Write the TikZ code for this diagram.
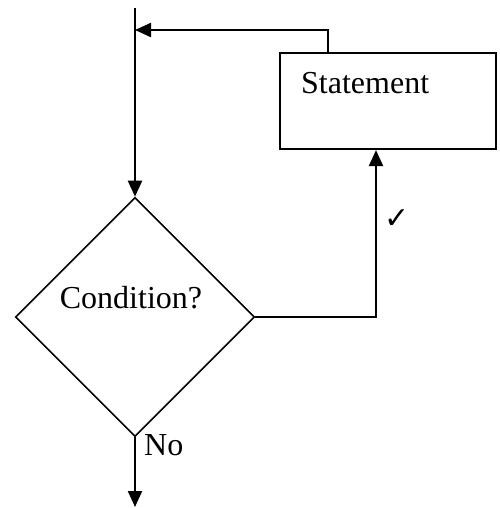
\documentclass[tikz,border=0pt]{standalone}
\usepackage{fontspec}
\setmainfont{Liberation Serif}
\newfontfamily\symfont{DejaVu Sans}
\usetikzlibrary{shapes.geometric,arrows.meta}
\begin{document}
\begin{tikzpicture}[x=1pt,y=-1pt,
  conn/.style={line width=2.2pt},
  arr/.style={conn,-{Triangle[length=16pt,width=14pt]}},
  decision/.style={draw,diamond,line width=1.6pt,inner sep=0pt,minimum width=239pt,minimum height=239pt},
  procbox/.style={draw,rectangle,line width=2.2pt,inner sep=0pt,minimum width=216pt,minimum height=96pt},
  lbl/.style={inner sep=0pt,font=\fontsize{32}{38}\selectfont}]
\useasboundingbox (0,0) rectangle (499,508);
\node[decision] (cond) at (135,317) {};
\node[procbox] (stmt) at (388,101) {};
\node[lbl,anchor=base west] (stxt) at (301,94) {Statement};
\node[lbl,anchor=base] (ctxt) at (131,308) {Condition?};
\node[lbl,anchor=base west] (no) at (144,455) {No};
\node[inner sep=0pt,font=\symfont\fontsize{30}{34}\selectfont] (chk) at (397,219) {✓};
\coordinate (top) at (135,8);
\coordinate (j) at (135,30);
\coordinate (bot) at (135,507);
\draw[arr] (top) -- (cond.north);
\draw[arr] ([xshift=-60pt]stmt.north) |- (j);
\draw[arr] (cond.east) -| ([xshift=-12pt]stmt.south);
\draw[arr] (cond.south) -- (bot);
\end{tikzpicture}
\end{document}
